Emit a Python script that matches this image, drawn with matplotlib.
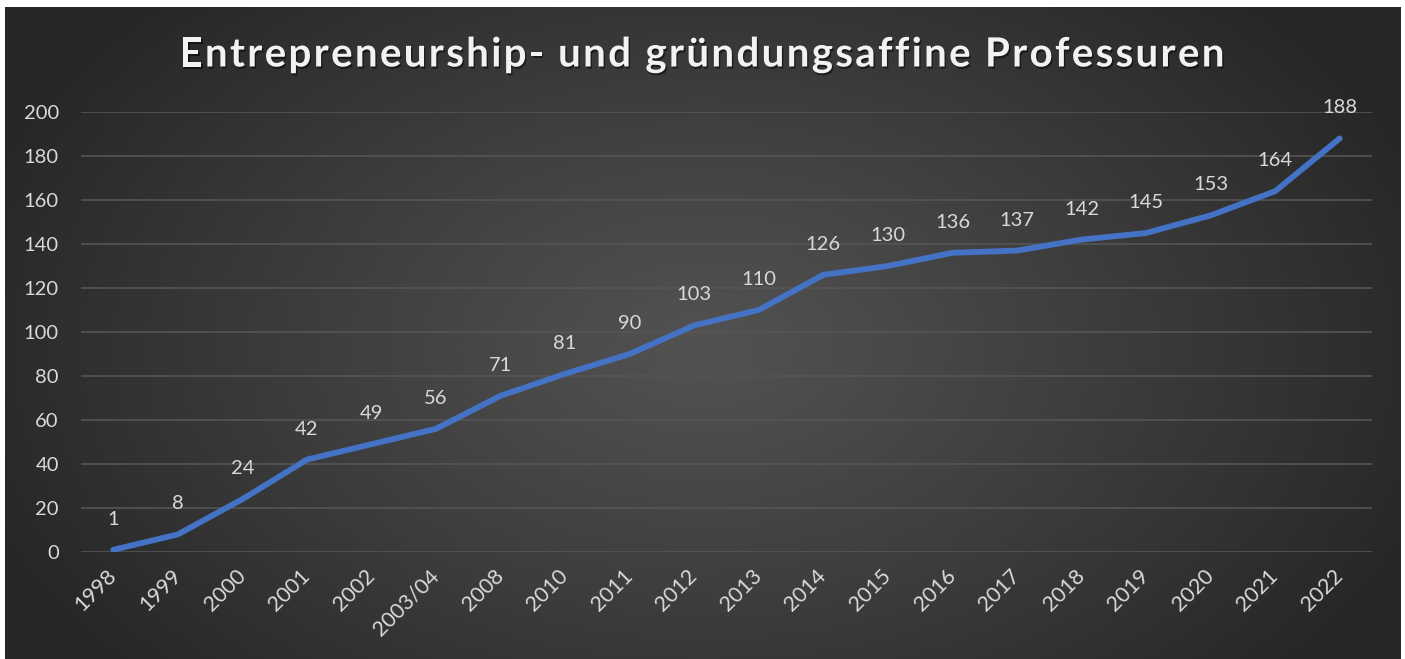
import numpy as np
import matplotlib.pyplot as plt
import matplotlib.patheffects as pe

years = ["1998", "1999", "2000", "2001", "2002", "2003/04", "2008", "2010", "2011",
         "2012", "2013", "2014", "2015", "2016", "2017", "2018", "2019", "2020",
         "2021", "2022"]
counts = [1, 8, 24, 42, 49, 56, 71, 81, 90, 103, 110, 126, 130, 136, 137, 142,
          145, 153, 164, 188]
title = "Entrepreneurship- und gründungsaffine Professuren"

plt.rcParams['font.family'] = ['Lato', 'DejaVu Sans']
txt_col = '#d9d9d9'

fig = plt.figure(figsize=(14.05, 6.59), dpi=100, facecolor='white')

# dark panel with radial gradient
bg = fig.add_axes([5/1405, 0, 1396/1405, 1 - 7/659])
bg.set_axis_off()
h, w = 300, 640
yy, xx = np.mgrid[0:h, 0:w]
cx, cy = w * 0.5, h * 0.52
r = np.sqrt(((xx - cx) / (w * 0.55)) ** 2 + ((yy - cy) / (h * 0.75)) ** 2)
r = np.clip(r, 0, 1)
lo, hi = 0x27 / 255, 0x52 / 255
g = hi - (hi - lo) * r ** 1.1
img = np.dstack([g, g, g])
bg.imshow(img, aspect='auto', extent=[0, 1, 0, 1], interpolation='bilinear')
bg.set_xlim(0, 1)
bg.set_ylim(0, 1)

ax = fig.add_axes([81/1405, 107/659, (1372 - 81)/1405, 440/659])
ax.patch.set_alpha(0)
x = np.arange(len(years))
ax.plot(x, counts, color='#4472c4', lw=4.2, solid_capstyle='round',
        solid_joinstyle='round', zorder=3)
for xi, v in zip(x, counts):
    ax.annotate(str(v), (xi, v), xytext=(0, 22), textcoords='offset points',
                ha='center', va='center', color=txt_col, fontsize=14.5)

ax.set_xlim(-0.5, len(years) - 0.5)
ax.set_ylim(0, 200)
ax.set_yticks(range(0, 201, 20))
ax.grid(axis='y', color='#555555', lw=1.2)
ax.set_axisbelow(True)
for s in ax.spines.values():
    s.set_visible(False)
ax.tick_params(axis='y', length=0, pad=16, labelsize=14.5, labelcolor=txt_col)
ax.tick_params(axis='x', length=0, pad=15, labelsize=15.5, labelcolor=txt_col)
ax.set_xticks(x)
ax.set_xticklabels(years, rotation=45, ha='right', va='center', rotation_mode='anchor')

# title with letter spacing, laid out char by char
renderer = fig.canvas.get_renderer()
tkw = dict(color='#f2f2f2', fontsize=29, fontweight='bold', va='center', ha='left',
           path_effects=[pe.withSimplePatchShadow(offset=(1, -1.5),
                                                  shadow_rgbFace='black', alpha=0.5)])
probe = fig.text(0, 0, title, **tkw)
full_w = probe.get_window_extent(renderer).width
probe.remove()
target_w = 1045
spacing = (target_w - full_w) / (len(title) - 1)
x0 = 702 - target_w / 2
ty = 1 - 55/659
for i, ch in enumerate(title):
    if i > 0:
        p = fig.text(0, 0, title[:i], **tkw)
        pw = p.get_window_extent(renderer).width
        p.remove()
    else:
        pw = 0
    if ch == ' ':
        continue
    fig.text((x0 + pw + i * spacing) / 1405, ty, ch, **tkw)

fig.savefig('out.png', dpi=100, facecolor='white')
